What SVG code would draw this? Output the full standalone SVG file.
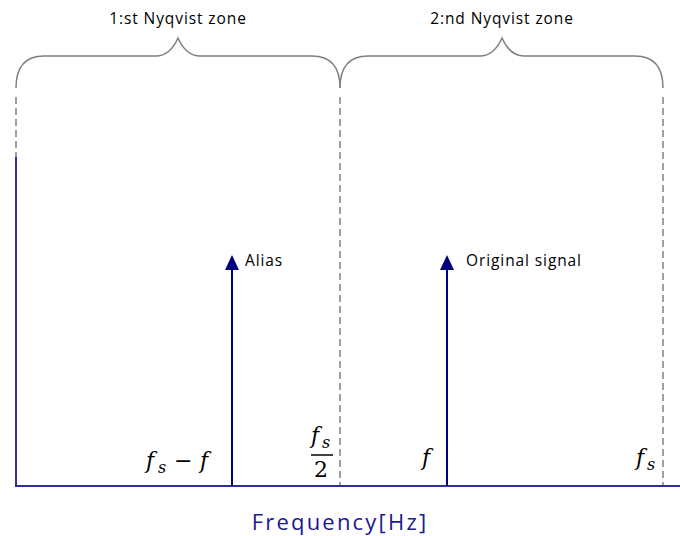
<svg xmlns="http://www.w3.org/2000/svg" width="680" height="536" viewBox="0 0 680 536">
<style>
.brace{fill:none;stroke:#808080;stroke-width:1.5}
.dash{fill:none;stroke:#808080;stroke-width:1.5;stroke-dasharray:7,4}
.axis{stroke:#2E3192;stroke-width:2;fill:none}
.sig{stroke:#00007F;stroke-width:2;fill:none}
.lbl{font-family:"Open Sans","DejaVu Sans",sans-serif;font-size:15.5px;letter-spacing:0.9px;fill:#000}
.math{font-family:"DejaVu Serif","Liberation Serif",serif;font-style:italic;font-size:22px;fill:#000}
.mathsub{font-family:"DejaVu Serif","Liberation Serif",serif;font-style:italic;font-size:16px;fill:#000}
.mathn{font-family:"DejaVu Serif","Liberation Serif",serif;font-size:22px;fill:#000}
.xl{font-family:"Open Sans","DejaVu Sans",sans-serif;font-size:22px;letter-spacing:2.2px;fill:#1A1A8C}
</style>
<g id="zone1">
<path class="brace" d="M16,88 Q16,56 44,56 L156,56 Q170,56 178,38 Q186,56 200,56 L312,56 Q340,56 340,88"/>
<text class="lbl" x="178" y="24" text-anchor="middle">1:st Nyqvist zone</text>
</g>
<g id="zone2">
<path class="brace" d="M340,88 Q340,56 368,56 L480,56 Q494,56 502,38 Q510,56 524,56 L635,56 Q663,56 663,88"/>
<text class="lbl" x="502" y="24" text-anchor="middle">2:nd Nyqvist zone</text>
</g>
<g id="connectors">
<line class="dash" x1="16" y1="97" x2="16" y2="157"/>
<line class="dash" x1="340" y1="97" x2="340" y2="486"/>
<line class="dash" x1="663" y1="97" x2="663" y2="486"/>
<line class="axis" x1="16" y1="157" x2="16" y2="487"/>
<line class="axis" x1="15" y1="486" x2="680" y2="486"/>
</g>
<g id="alias">
<line class="sig" x1="232" y1="486" x2="232" y2="268"/>
<polygon points="232,255 225,270 239,270" fill="#00007F"/>
<text class="lbl" x="245" y="266">Alias</text>
</g>
<g id="original">
<line class="sig" x1="447" y1="486" x2="447" y2="268"/>
<polygon points="447,255 440,270 454,270" fill="#00007F"/>
<text class="lbl" x="466" y="266">Original signal</text>
</g>
<g id="labels">
<text class="math" x="146" y="468">f</text>
<text class="mathsub" x="158" y="473">s</text>
<text class="mathn" x="174" y="468">−</text>
<text class="math" x="200" y="468">f</text>
<text class="math" x="311" y="443">f</text>
<text class="mathsub" x="322" y="448">s</text>
<line x1="311" y1="455" x2="333" y2="455" stroke="#000" stroke-width="1.5"/>
<text class="mathn" x="314" y="477">2</text>
<text class="math" x="422" y="465">f</text>
<text class="math" x="636" y="465">f</text>
<text class="mathsub" x="647" y="470">s</text>
<text class="xl" x="340" y="530" text-anchor="middle">Frequency[Hz]</text>
</g>
</svg>
